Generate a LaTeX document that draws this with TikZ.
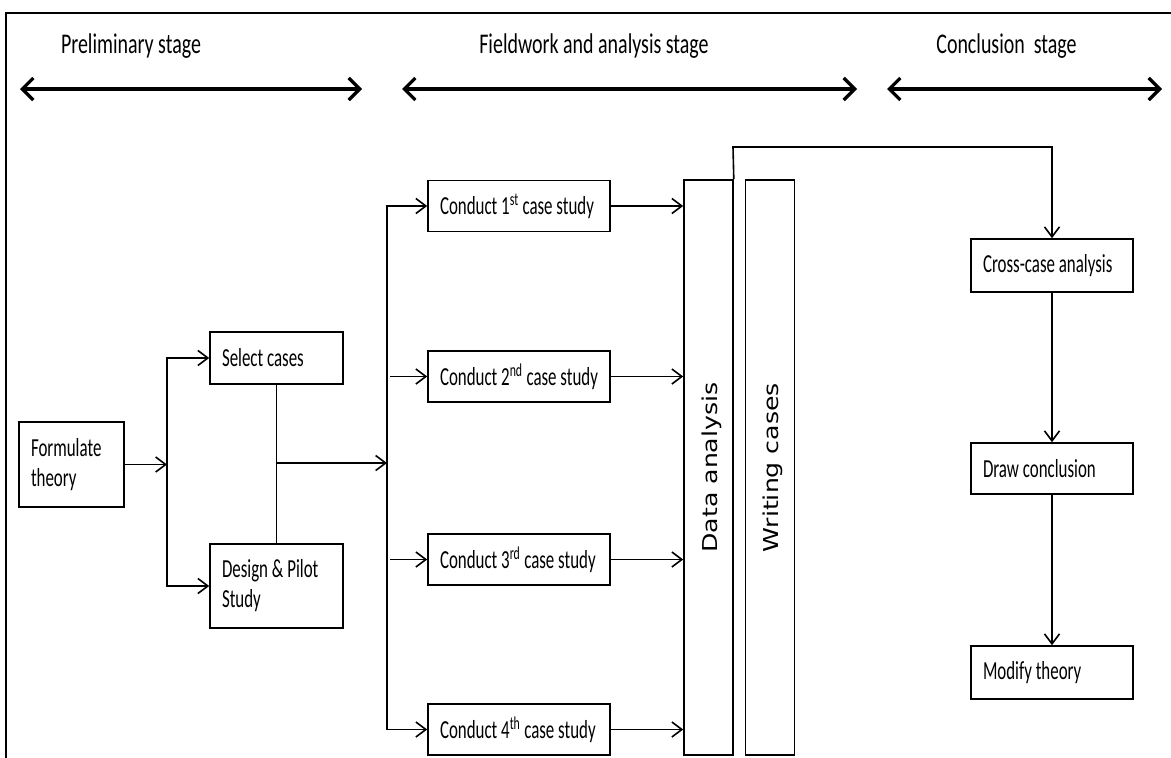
\documentclass[tikz,border=0pt]{standalone}
\usepackage{fontspec}
\newfontfamily\boxfont[FakeStretch=0.65]{Carlito}
\newfontfamily\stagefont[FakeStretch=0.70]{Carlito}
\newfontfamily\barfont[FakeStretch=1.23]{DejaVu Sans}
\usetikzlibrary{arrows.meta}
% use the font's own interword space inside aligned nodes
\newcommand\plainspaces{\spaceskip 0pt\relax\xspaceskip 0pt\relax}

\begin{document}
\begin{tikzpicture}[x=1pt,y=-1pt,
  box/.style={draw, line width=1.6pt, inner xsep=12pt, inner ysep=0pt,
    align=left, font=\boxfont\fontsize{26}{30}\selectfont,
    execute at begin node=\plainspaces},
  bar/.style={draw, line width=1.6pt, minimum width=49pt,
    minimum height=575pt, inner sep=0pt},
  bartext/.style={rotate=90, anchor=base, inner sep=0pt,
    font=\barfont\fontsize{20.5}{24}\selectfont},
  stagelabel/.style={anchor=base, inner sep=0pt,
    font=\stagefont\fontsize{28.5}{32}\selectfont},
  stagearrow/.style={line width=3.2pt,
    {Straight Barb[length=11pt,width=22pt]}-{Straight Barb[length=11pt,width=22pt]}},
  link/.style={line width=1.6pt, -{Straight Barb[length=10pt,width=15pt]}},
  plain/.style={line width=1.6pt}
]
\useasboundingbox (0,0) rectangle (1171,758);

% outer frame (top and left edges)
\draw[line width=2pt] (6,758) -- (6,13) -- (1171,13);

% stage headings and their spans
\node[stagelabel] (tp) at (131,53) {Preliminary stage};
\node[stagelabel] (tf) at (594,53) {Fieldwork and analysis stage};
\node[stagelabel] (tc) at (1006.5,53) {Conclusion\ \ stage};

\coordinate (pl) at (20,89);  \coordinate (pr) at (362,89);
\coordinate (fl) at (402,89); \coordinate (fr) at (857,89);
\coordinate (cl) at (887,89); \coordinate (cr) at (1162,89);
\draw[stagearrow] (pl) -- (pr);
\draw[stagearrow] (fl) -- (fr);
\draw[stagearrow] (cl) -- (cr);

% preliminary stage
\node[box, text width=81pt, minimum height=85pt] (form) at (71.5,464.5) {Formulate\\theory};
\node[box, text width=109pt, minimum height=52pt] (sel) at (276.5,358) {\mbox{Select cases}};
\node[box, text width=109pt, minimum height=84pt] (des) at (276.5,586) {Design \& Pilot\\Study};

% fieldwork stage
\node[box, text width=158pt, minimum height=51pt] (c1) at (519,206) {\mbox{Conduct 1\textsuperscript{st} case study}};
\node[box, text width=158pt, minimum height=51pt] (c2) at (519,376.5) {\mbox{Conduct 2\textsuperscript{nd} case study}};
\node[box, text width=158pt, minimum height=51pt] (c3) at (519,559.5) {\mbox{Conduct 3\textsuperscript{rd} case study}};
\node[box, text width=158pt, minimum height=51pt] (c4) at (519,729.5) {\mbox{Conduct 4\textsuperscript{th} case study}};

\node[bar] (da) at (708.5,467.5) {};
\node[bar] (wc) at (770,467.5) {};
\node[bartext] (dat) at (717,467.5) {Data analysis};
\node[bartext] (wct) at (778,467.5) {Writing cases};

% conclusion stage
\node[box, text width=138pt, minimum height=53pt] (cc) at (1052,265.5) {\mbox{Cross-case analysis}};
\node[box, text width=138pt, minimum height=51pt] (dc) at (1052,468.5) {\mbox{Draw conclusion}};
\node[box, text width=138pt, minimum height=53pt] (mt) at (1052,672.5) {\mbox{Modify theory}};

% connectors
\coordinate (ja) at (167,464.5);
\coordinate (jb) at (387,463);
\coordinate (lp) at (733,147);

\draw[link] (form.east) -- (ja);
\draw[link] (ja) |- (sel.west);
\draw[link] (ja) |- (des.west);
\draw[plain] (sel.south) -- (des.north);
\draw[link] (sel.south |- jb) -- (jb);
\draw[link] (jb) |- (c1.west);
\draw[link] (jb) |- (c4.west);
\draw[link] ([xshift=-37pt]c2.west) -- (c2.west);
\draw[link] ([xshift=-37pt]c3.west) -- (c3.west);

\draw[link] (c1.east) -- (c1.east -| da.west);
\draw[link] (c2.east) -- (c2.east -| da.west);
\draw[link] (c3.east) -- (c3.east -| da.west);
\draw[link] (c4.east) -- (c4.east -| da.west);

\draw[link] (da.north east) -- (lp) -| (cc.north);
\draw[link] (cc.south) -- (dc.north);
\draw[link] (dc.south) -- (mt.north);
\end{tikzpicture}
\end{document}
